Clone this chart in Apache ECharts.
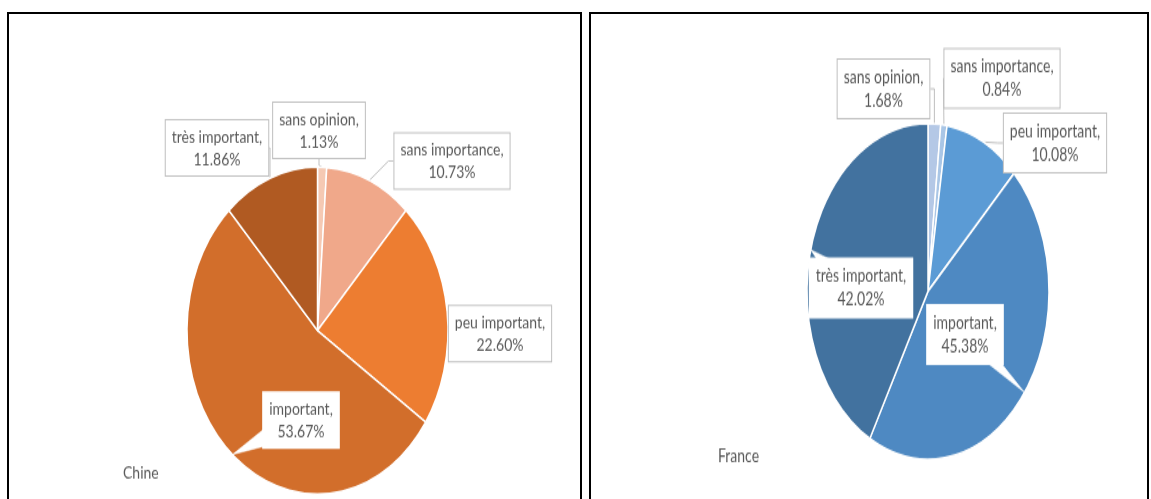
<!DOCTYPE html>
<html><head><meta charset="utf-8">
<script src="https://cdn.jsdelivr.net/npm/echarts/dist/echarts.min.js"></script>
<style>
html,body{margin:0;padding:0;background:#fff;width:1151px;height:499px;overflow:hidden;position:relative}
.panel{position:absolute;border:2px solid #000;box-sizing:border-box}
.chart{position:absolute;top:0;transform-origin:0 0}
</style></head><body>
<div class="panel" style="left:7px;top:12px;width:575px;height:520px"></div>
<div class="panel" style="left:589px;top:12px;width:560px;height:520px"></div>
<div id="c1" class="chart" style="left:0;width:585px"></div>
<div id="c2" class="chart" style="left:585px;width:566px"></div>
<script>
// ---- data ----
const categories = ['sans opinion', 'sans importance', 'peu important', 'important', 'très important'];
const chineValues = [1.13, 10.73, 22.60, 53.67, 11.86];
const franceValues = [1.68, 0.84, 10.08, 45.38, 42.02];
const panelTitles = ['Chine', 'France'];

// ---- styles / layout ----
const chineColors = ['#F5C9B3', '#F0A88A', '#ED7D31', '#D26E2B', '#B05A22'];
const franceColors = ['#B4C8E6', '#A9C6E6', '#5B9BD5', '#4E89C2', '#42729F'];
const FONT = 'Lato, "Liberation Sans", sans-serif';

function makeChart(id, cfg) {
  const el = document.getElementById(id);
  const s = cfg.stretch;
  const w = parseFloat(el.style.width);
  const h = 499 / s;
  el.style.height = h + 'px';
  el.style.transform = 'scaleY(' + s + ')';
  const chart = echarts.init(el, null, { renderer: 'canvas', width: w, height: h });
  const labelRects = {};
  const data = categories.map((n, i) => {
    const d = { name: n, value: cfg.values[i], itemStyle: { color: cfg.colors[i] } };
    if (cfg.wedges.indexOf(i) >= 0) {
      d.labelLine = { show: false };
      d.label = { borderColor: '#ffffff' };
    }
    return d;
  });
  chart.setOption({
    animation: false,
    graphic: [{
      id: 'title', type: 'text', x: cfg.titlePos[0], y: cfg.titlePos[1],
      style: { text: cfg.title, fill: '#595959', font: '14px ' + FONT, textAlign: 'left', textVerticalAlign: 'middle' }
    }],
    series: [{
      type: 'pie',
      center: cfg.center,
      radius: cfg.radius,
      startAngle: 90,
      clockwise: true,
      avoidLabelOverlap: false,
      minShowLabelAngle: 0,
      data: data,
      itemStyle: { borderColor: '#ffffff', borderWidth: 1.5 },
      label: {
        show: true,
        position: 'outside',
        formatter: p => p.name + ',\n' + p.value.toFixed(2) + '%',
        color: '#595959',
        fontFamily: FONT,
        fontSize: 14,
        lineHeight: cfg.lineHeight,
        backgroundColor: '#ffffff',
        borderColor: '#bfbfbf',
        borderWidth: 1,
        padding: [4, 6],
        align: 'center'
      },
      labelLine: { show: true, length: 5, length2: 5, lineStyle: { color: '#bfbfbf', width: 1 } },
      labelLayout: p => {
        const pos = cfg.labelPos[p.dataIndex];
        if (p.labelRect) labelRects[p.dataIndex] = { w: p.labelRect.width, h: p.labelRect.height };
        return { x: pos[0], y: pos[1], align: 'center', verticalAlign: 'middle' };
      },
      emphasis: { disabled: true }
    }]
  });

  // white callout wedges from the slice edge (mid-angle) to the label box
  const total = cfg.values.reduce((a, b) => a + b, 0);
  const els = [];
  cfg.wedges.forEach((i, n) => {
    let cum = 0;
    for (let j = 0; j < i; j++) cum += cfg.values[j];
    const theta = 2 * Math.PI * (cum + cfg.values[i] / 2) / total; // clockwise from 12 o'clock
    const tip = [cfg.center[0] + cfg.radius * Math.sin(theta), cfg.center[1] - cfg.radius * Math.cos(theta)];
    const pos = cfg.labelPos[i];
    const r = labelRects[i] || { w: 76, h: 46 };
    const hw = r.w / 2 - 2, hh = r.h / 2 - 2;
    const dx = tip[0] - pos[0], dy = tip[1] - pos[1];
    const k = Math.min(hw / Math.max(Math.abs(dx), 1e-6), hh / Math.max(Math.abs(dy), 1e-6));
    const b = [pos[0] + dx * k, pos[1] + dy * k];
    const half = 7;
    let p1, p2;
    if (Math.abs(Math.abs(b[0] - pos[0]) - hw) < 0.5) {
      const yy = Math.max(pos[1] - hh + half, Math.min(pos[1] + hh - half, b[1]));
      p1 = [b[0], yy - half]; p2 = [b[0], yy + half];
    } else {
      const xx = Math.max(pos[0] - hw + half, Math.min(pos[0] + hw - half, b[0]));
      p1 = [xx - half, b[1]]; p2 = [xx + half, b[1]];
    }
    els.push({
      id: 'wedge' + n, type: 'polygon', z: 10, silent: true,
      shape: { points: [tip, p1, p2] },
      style: { fill: '#ffffff', stroke: '#ffffff', lineWidth: 0.5 }
    });
  });
  chart.setOption({ graphic: els });
}

makeChart('c1', {
  stretch: 1.253,
  values: chineValues,
  colors: chineColors,
  title: panelTitles[0],
  titlePos: [123, 377.5],
  center: [317.5, 263.8],
  radius: 130.5,
  lineHeight: 18,
  wedges: [3],
  labelPos: [[319, 104], [452, 128.5], [500, 266.2], [301, 335.2], [217, 118]]
});

makeChart('c2', {
  stretch: 1.384,
  values: franceValues,
  colors: franceColors,
  title: panelTitles[1],
  titlePos: [133, 328],
  center: [343, 209.9],
  radius: 121,
  lineHeight: 17,
  wedges: [3, 4],
  labelPos: [[298.5, 64], [417, 56.4], [470, 103], [380, 241], [276, 207.4]]
});
</script>
</body></html>
